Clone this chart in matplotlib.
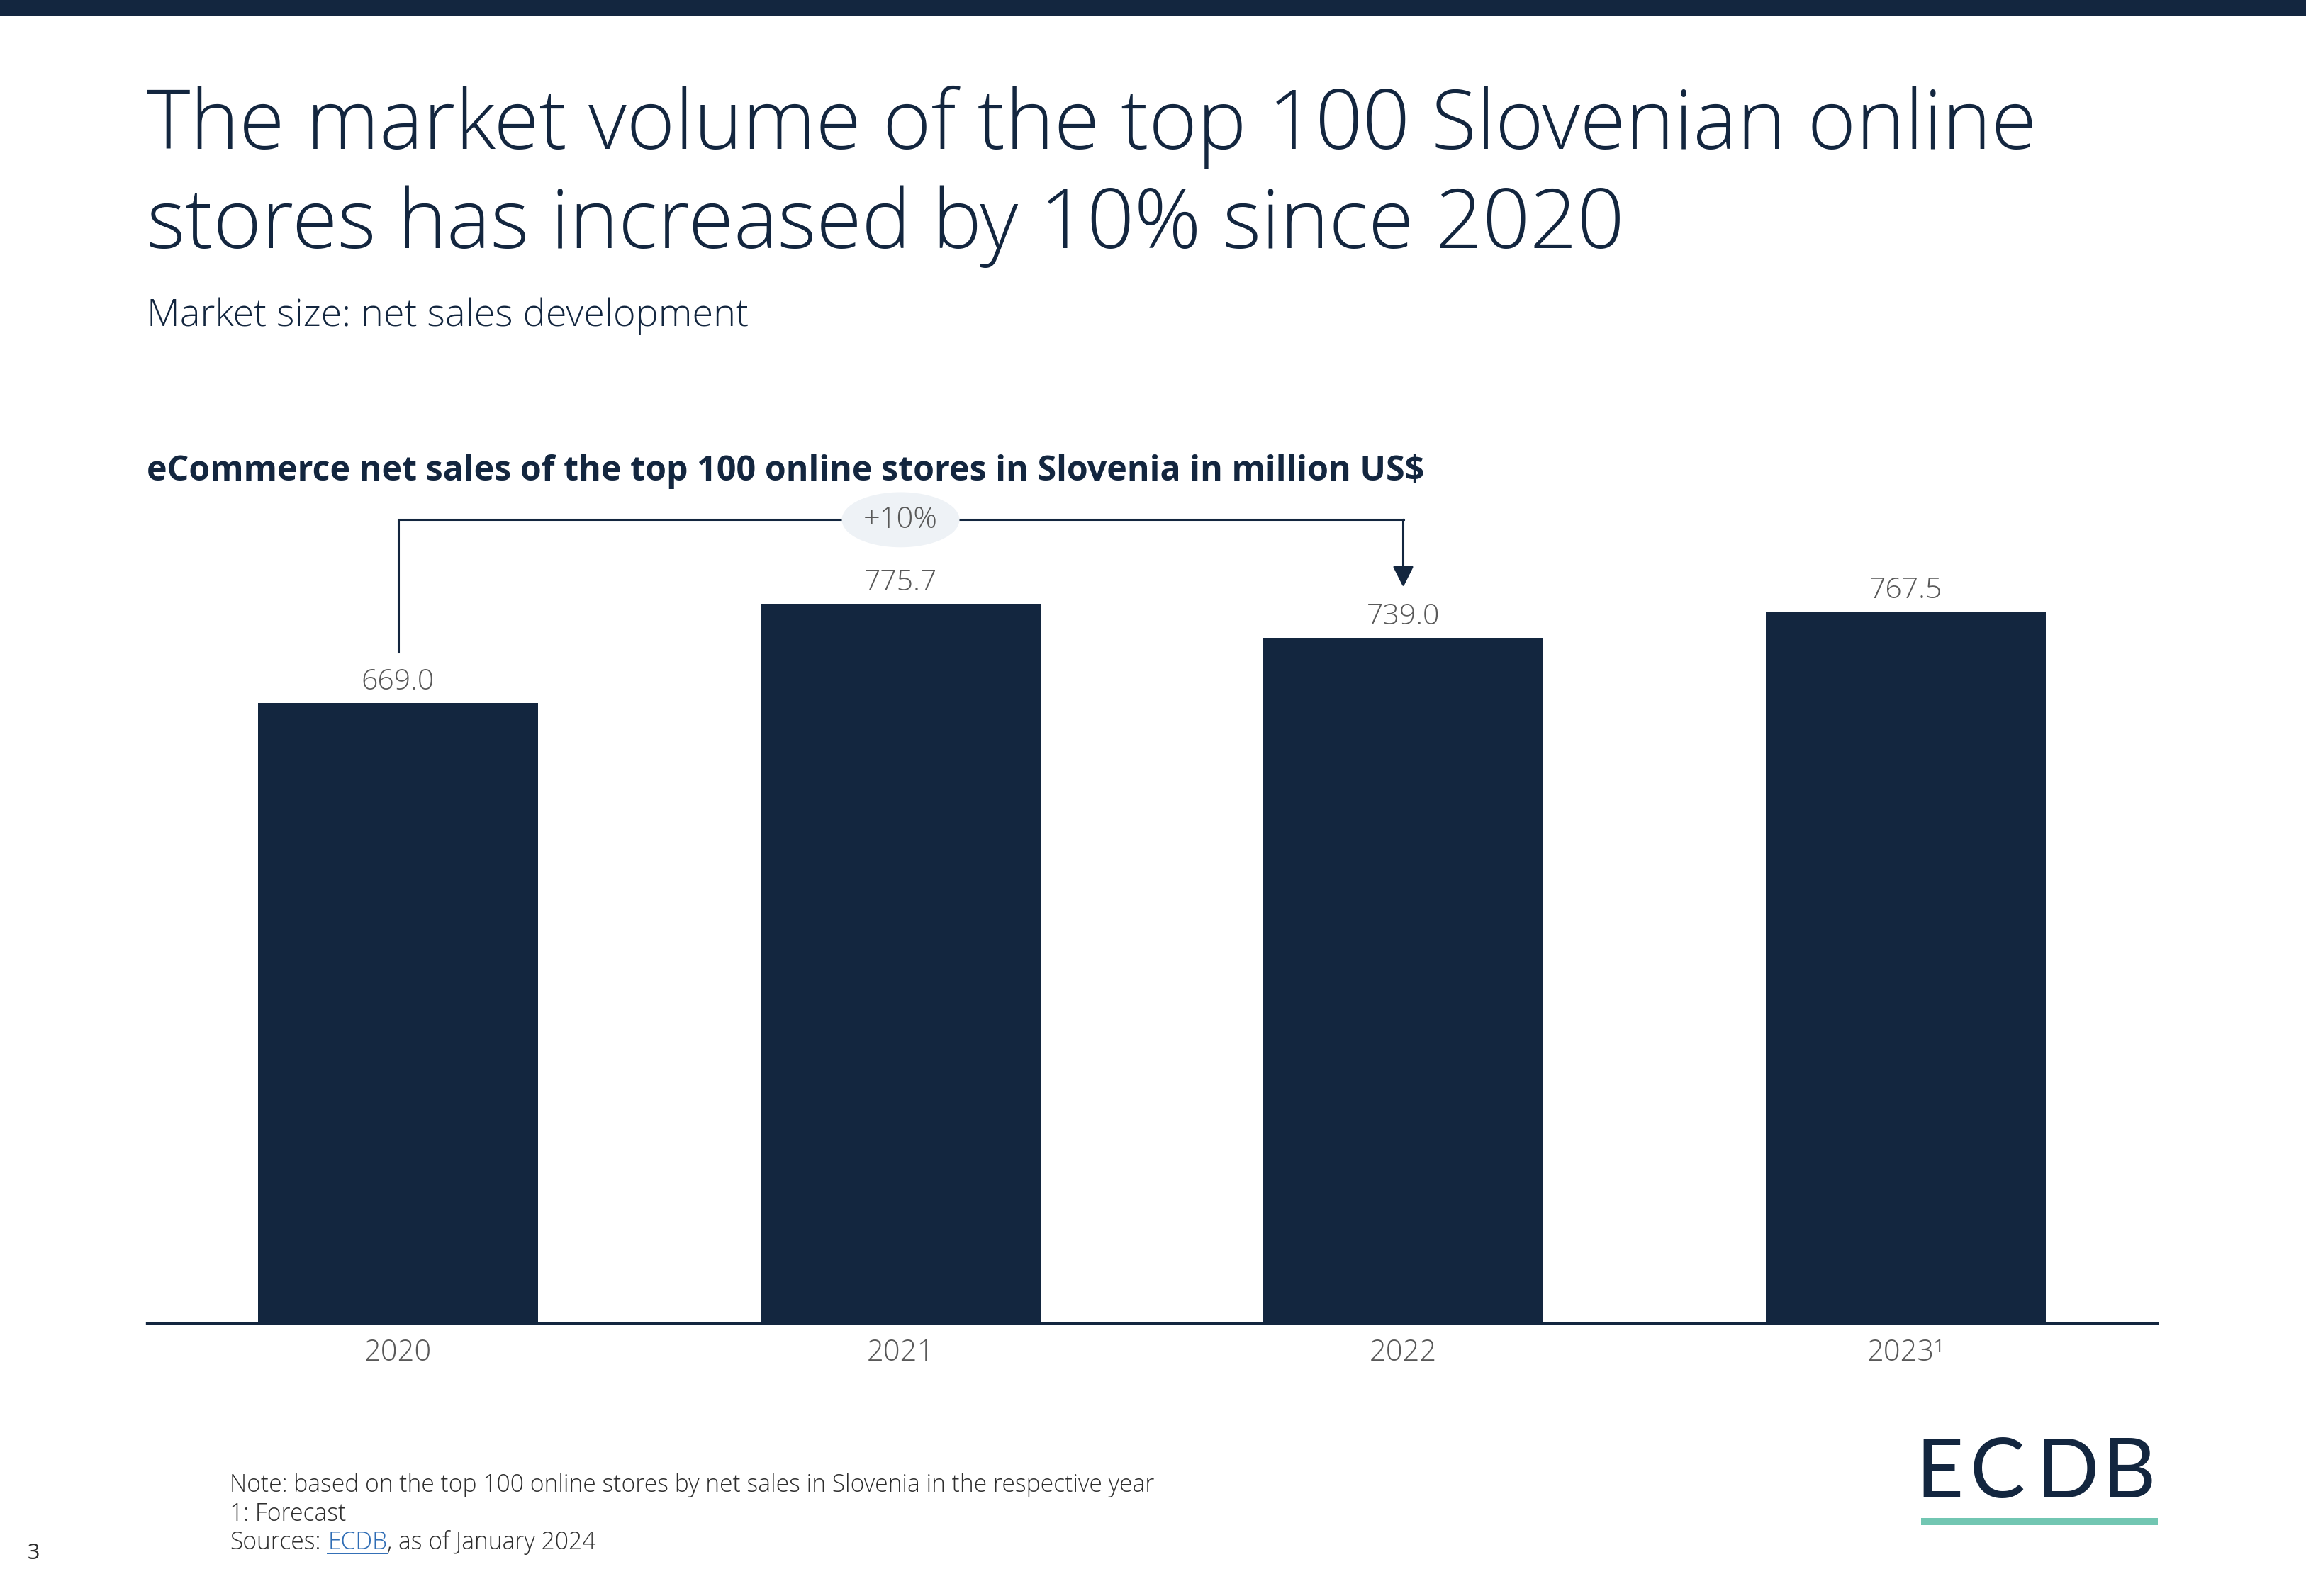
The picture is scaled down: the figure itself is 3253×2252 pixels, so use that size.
import matplotlib
matplotlib.use("Agg")
import matplotlib.pyplot as plt
from matplotlib.patches import Rectangle
from matplotlib.lines import Line2D

years = ["2020", "2021", "2022", "2023\u00b9"]
net_sales = [669.0, 775.7, 739.0, 767.5]
growth_label = "+10%"

title_lines = ["The market volume of the top 100 Slovenian online",
               "stores has increased by 10% since 2020"]
subtitle = "Market size: net sales development"
heading = "eCommerce net sales of the top 100 online stores in Slovenia in million US$"
notes = ["Note: based on the top 100 online stores by net sales in Slovenia in the respective year",
         "1: Forecast"]

NAVY = "#13263f"
GREY = "#595959"
TEXT = "#2e2e2e"
TEAL = "#72c6b2"
LINK = "#2f6db5"

plt.rcParams["font.family"] = ["Open Sans", "DejaVu Sans"]

W, H = 3253, 2252
fig = plt.figure(figsize=(W / 100, H / 100), dpi=100)


def fx(px):
    return px / W


def fy(py):
    return 1 - py / H


# top band
fig.add_artist(Rectangle((0, fy(23)), 1, 23 / H, transform=fig.transFigure,
                         color=NAVY, lw=0))

fig.text(fx(207), fy(210), title_lines[0], fontsize=84.2, weight="light",
         color=NAVY, va="baseline")
fig.text(fx(207), fy(350), title_lines[1], fontsize=84.2, weight="light",
         color=NAVY, va="baseline")
fig.text(fx(207), fy(460), subtitle, fontsize=39, weight="light",
         color=NAVY, va="baseline")
fig.text(fx(207), fy(678), heading, fontsize=34.8, weight="bold",
         color=NAVY, va="baseline")

# chart
ax = fig.add_axes([fx(207), fy(1867), fx(3043) - fx(207), (1867 - 700) / H])
x = range(len(years))
ax.bar(x, net_sales, width=0.556, color=NAVY, zorder=2)
ax.set_xlim(-0.5, len(years) - 0.5)
ax.set_ylim(0, 892.2)
ax.set_xticks(list(x))
ax.set_xticklabels(years)
ax.set_yticks([])
for side in ["top", "left", "right"]:
    ax.spines[side].set_visible(False)
ax.spines["bottom"].set_color(NAVY)
ax.spines["bottom"].set_linewidth(2.4)
ax.tick_params(axis="x", length=0, pad=15, labelsize=30, labelcolor=GREY)
for lab in ax.get_xticklabels():
    lab.set_fontweight("light")

for i, v in enumerate(net_sales):
    ax.annotate(f"{v:.1f}", (i, v), xytext=(0, 14), textcoords="offset points",
                ha="center", va="baseline", fontsize=29.5, color=GREY,
                fontweight="light")

# growth bracket from 2020 to 2022
start_y = net_sales[0] + 55
tip_y = net_sales[2] + 55
top_y = max(net_sales) + 91
ax.plot([0, 0, 2], [start_y, top_y, top_y], color=NAVY, lw=2.2,
        solid_joinstyle="miter", clip_on=False, zorder=2)
ax.annotate("", xy=(2, tip_y), xytext=(2, top_y),
            arrowprops=dict(arrowstyle="-|>,head_length=1.0,head_width=0.5",
                            color=NAVY, lw=2.2, mutation_scale=18,
                            shrinkA=0, shrinkB=0),
            annotation_clip=False)
ax.text(1, top_y, growth_label, ha="center", va="center", fontsize=30,
        color=GREY, fontweight="light", zorder=4,
        bbox=dict(boxstyle="ellipse,pad=0.15", fc="#eef2f6", ec="none"))

# footer
fig.text(fx(324), fy(2105), notes[0], fontsize=24.2, color=TEXT, va="baseline",
         fontweight="light")
fig.text(fx(324), fy(2146), notes[1], fontsize=24.2, color=TEXT, va="baseline",
         fontweight="light")
t1 = fig.text(fx(324), fy(2186), "Sources:", fontsize=24.2, color=TEXT,
              va="baseline", fontweight="light")
fig.canvas.draw()
r = fig.canvas.get_renderer()
bb1 = t1.get_window_extent(r)
x_link = bb1.x1 + 10
t2 = fig.text(x_link / W, fy(2186), "ECDB", fontsize=24.2, color=LINK,
              va="baseline", fontweight="light")
bb2 = t2.get_window_extent(r)
fig.add_artist(Line2D([bb2.x0 / W, bb2.x1 / W], [fy(2192), fy(2192)],
                      transform=fig.transFigure, color=LINK, lw=1.4))
fig.text(bb2.x1 / W, fy(2186), ", as of January 2024", fontsize=24.2,
         color=TEXT, va="baseline", fontweight="light")

fig.text(fx(39), fy(2200), "3", fontsize=22, color=TEXT, va="baseline")

# logo, one letter at a time to get the wide spacing
for letter, lx in zip("ECDB", [2702, 2778, 2872, 2965]):
    fig.text(fx(lx), fy(2113), letter, fontsize=84, family="Lato",
             color=NAVY, va="baseline")
fig.add_artist(Rectangle((fx(2710), fy(2152)), fx(3044) - fx(2710), 10 / H,
                         transform=fig.transFigure, color=TEAL, lw=0))

fig.savefig("out.png", dpi=100)
